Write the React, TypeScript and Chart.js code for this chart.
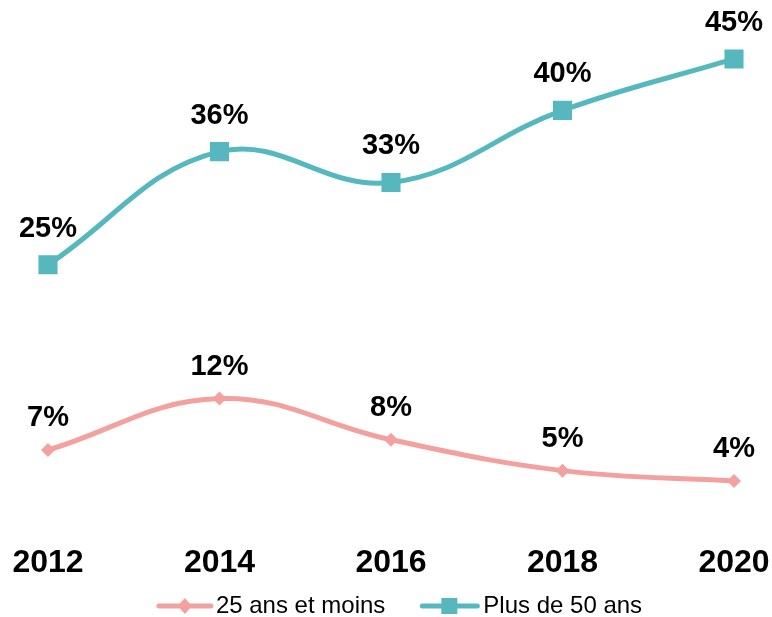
import React, { useEffect, useRef } from 'react';
import { Chart, registerables } from 'chart.js';
Chart.register(...registerables);

const years = ['2012', '2014', '2016', '2018', '2020'];
const young = [7, 12, 8, 5, 4];
const senior = [25, 36, 33, 40, 45];
const seriesNames = ['25 ans et moins', 'Plus de 50 ans'];

const PINK = '#F2A19F';
const TEAL = '#56B8BE';
const FONT = '"Liberation Sans", Arial, sans-serif';

function drawDiamond(ctx: CanvasRenderingContext2D, x: number, y: number, hw: number, hh: number) {
  ctx.beginPath();
  ctx.moveTo(x, y - hh);
  ctx.lineTo(x + hw, y);
  ctx.lineTo(x, y + hh);
  ctx.lineTo(x - hw, y);
  ctx.closePath();
  ctx.fill();
}

const valueLabels = {
  id: 'valueLabels',
  afterDatasetsDraw(chart: any) {
    const ctx = chart.ctx;
    chart.data.datasets.forEach((ds: any, i: number) => {
      const meta = chart.getDatasetMeta(i);
      const off = i === 1 ? 28 : 24;
      meta.data.forEach((pt: any, j: number) => {
        ctx.save();
        ctx.font = 'bold 29px ' + FONT;
        ctx.fillStyle = '#000';
        ctx.textAlign = 'center';
        ctx.textBaseline = 'alphabetic';
        ctx.fillText(ds.data[j] + '%', pt.x, pt.y - off);
        ctx.restore();
      });
    });
  },
};

const customLegend = {
  id: 'customLegend',
  afterDraw(chart: any) {
    const ctx = chart.ctx;
    ctx.save();
    ctx.font = '24px ' + FONT;
    const w1 = ctx.measureText(seriesNames[0]).width;
    const w2 = ctx.measureText(seriesNames[1]).width;
    const total = 59 + w1 + 35 + 63 + w2;
    const cy = 606;
    let x = 399.5 - total / 2;
    ctx.strokeStyle = PINK;
    ctx.fillStyle = PINK;
    ctx.lineWidth = 5;
    ctx.lineCap = 'round';
    ctx.beginPath();
    ctx.moveTo(x + 2, cy);
    ctx.lineTo(x + 54, cy);
    ctx.stroke();
    drawDiamond(ctx, x + 28, cy, 7, 8);
    ctx.fillStyle = '#000';
    ctx.textBaseline = 'middle';
    ctx.textAlign = 'left';
    ctx.fillText(seriesNames[0], x + 59, cy);
    x = x + 59 + w1 + 35;
    ctx.strokeStyle = TEAL;
    ctx.fillStyle = TEAL;
    ctx.beginPath();
    ctx.moveTo(x + 2, cy);
    ctx.lineTo(x + 57, cy);
    ctx.stroke();
    ctx.fillRect(x + 29 - 8, cy - 8, 16, 16);
    ctx.fillStyle = '#000';
    ctx.fillText(seriesNames[1], x + 63, cy);
    ctx.restore();
  },
};

export default function App() {
  const ref = useRef<HTMLCanvasElement | null>(null);
  useEffect(() => {
    if (!ref.current) return;
    const chart = new Chart(ref.current, {
      type: 'line',
      data: {
        labels: years,
        datasets: [
          {
            label: seriesNames[0],
            data: young,
            borderColor: PINK,
            backgroundColor: PINK,
            borderWidth: 5,
            tension: 0.4,
            pointStyle: 'rectRot',
            pointRadius: 7,
            pointBorderWidth: 0,
            pointBackgroundColor: PINK,
          },
          {
            label: seriesNames[1],
            data: senior,
            borderColor: TEAL,
            backgroundColor: TEAL,
            borderWidth: 5,
            tension: 0.4,
            pointStyle: 'rect',
            pointRadius: 13.5,
            pointBorderWidth: 0,
            pointBackgroundColor: TEAL,
          },
        ],
      },
      options: {
        responsive: false,
        animation: false,
        devicePixelRatio: 1,
        layout: { autoPadding: false, padding: { left: 48, right: 38, top: 7.5, bottom: 12.5 } },
        plugins: {
          legend: { display: false },
          tooltip: { enabled: false },
        },
        scales: {
          x: {
            offset: false,
            grid: { display: false, drawTicks: false },
            border: { display: false },
            ticks: {
              color: '#000',
              font: { family: FONT, size: 32, weight: 'bold' },
              padding: 22,
              maxRotation: 0,
            },
            afterFit: (s: any) => {
              s.paddingLeft = 0;
              s.paddingRight = 0;
            },
          },
          y: {
            display: false,
            min: 0,
            max: 50,
            ticks: { display: false },
            afterFit: (s: any) => {
              s.paddingTop = 0;
              s.paddingBottom = 0;
            },
          },
        },
      },
      plugins: [valueLabels, customLegend],
    });
    return () => chart.destroy();
  }, []);
  return (
    <div style={{ position: 'absolute', left: 0, top: 0, width: 772, height: 617, background: '#fff' }}>
      <canvas ref={ref} width={772} height={617} />
    </div>
  );
}
